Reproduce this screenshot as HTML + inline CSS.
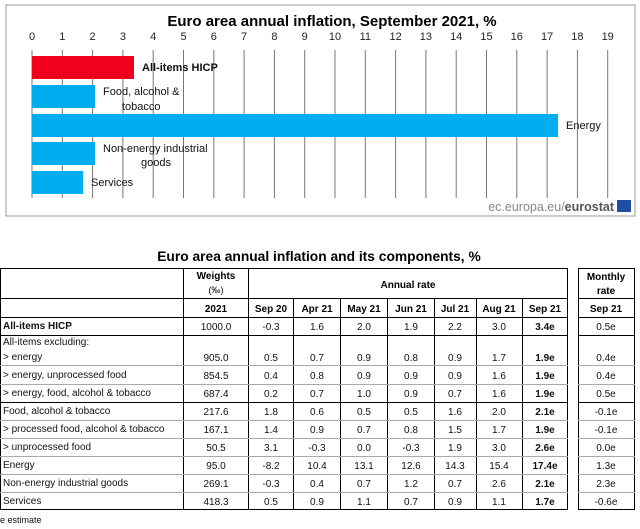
<!DOCTYPE html>
<html><head><meta charset="utf-8"><style>
html,body{margin:0;padding:0;background:#fff;width:640px;height:529px;overflow:hidden}
svg{display:block;font-family:"Liberation Sans",Arial,sans-serif}
</style></head><body>
<svg width="640" height="529" viewBox="0 0 640 529" xmlns="http://www.w3.org/2000/svg">
<rect x="6" y="5" width="629" height="211" fill="#fff" stroke="#999" stroke-width="1"/>
<text x="332" y="26" font-size="15" font-weight="bold" text-anchor="middle">Euro area annual inflation, September 2021, %</text>
<g font-size="11" text-anchor="middle" fill="#222">
<text x="32" y="40">0</text><text x="62.3" y="40">1</text><text x="92.6" y="40">2</text><text x="122.9" y="40">3</text><text x="153.2" y="40">4</text><text x="183.5" y="40">5</text><text x="213.8" y="40">6</text><text x="244.1" y="40">7</text><text x="274.4" y="40">8</text><text x="304.7" y="40">9</text><text x="335" y="40">10</text><text x="365.3" y="40">11</text><text x="395.6" y="40">12</text><text x="425.9" y="40">13</text><text x="456.2" y="40">14</text><text x="486.5" y="40">15</text><text x="516.8" y="40">16</text><text x="547.1" y="40">17</text><text x="577.4" y="40">18</text><text x="607.7" y="40">19</text>
</g>
<g stroke="#777" stroke-width="1">
<line x1="32" y1="50" x2="32" y2="198"/><line x1="62.3" y1="50" x2="62.3" y2="198"/><line x1="92.6" y1="50" x2="92.6" y2="198"/><line x1="122.9" y1="50" x2="122.9" y2="198"/><line x1="153.2" y1="50" x2="153.2" y2="198"/><line x1="183.5" y1="50" x2="183.5" y2="198"/><line x1="213.8" y1="50" x2="213.8" y2="198"/><line x1="244.1" y1="50" x2="244.1" y2="198"/><line x1="274.4" y1="50" x2="274.4" y2="198"/><line x1="304.7" y1="50" x2="304.7" y2="198"/><line x1="335" y1="50" x2="335" y2="198"/><line x1="365.3" y1="50" x2="365.3" y2="198"/><line x1="395.6" y1="50" x2="395.6" y2="198"/><line x1="425.9" y1="50" x2="425.9" y2="198"/><line x1="456.2" y1="50" x2="456.2" y2="198"/><line x1="486.5" y1="50" x2="486.5" y2="198"/><line x1="516.8" y1="50" x2="516.8" y2="198"/><line x1="547.1" y1="50" x2="547.1" y2="198"/><line x1="577.4" y1="50" x2="577.4" y2="198"/><line x1="607.7" y1="50" x2="607.7" y2="198"/>
</g>
<rect x="32" y="56" width="102" height="23" fill="#f0001c"/>
<rect x="32" y="85" width="63" height="23" fill="#00aeef"/>
<rect x="32" y="114" width="526" height="23" fill="#00aeef"/>
<rect x="32" y="142" width="63" height="23" fill="#00aeef"/>
<rect x="32" y="171" width="51" height="23" fill="#00aeef"/>
<g font-size="11" fill="#111">
<text x="142" y="71" font-weight="bold">All-items HICP</text>
<text x="103" y="95">Food, alcohol &amp;</text><text x="122" y="110">tobacco</text>
<text x="566" y="129">Energy</text>
<text x="103" y="152">Non-energy industrial</text><text x="141" y="166">goods</text>
<text x="91" y="186">Services</text>
</g>
<text x="614" y="211" font-size="12.5" text-anchor="end" fill="#888">ec.europa.eu/<tspan font-weight="bold" fill="#555">eurostat</tspan></text>
<rect x="617" y="200" width="14" height="12" fill="#1f4ea0"/>

<text x="319" y="261" font-size="13.8" font-weight="bold" text-anchor="middle">Euro area annual inflation and its components, %</text>

<g fill="none" stroke="#000" stroke-width="1">
<rect x="0.5" y="268.5" width="567" height="241"/>
<rect x="578.5" y="268.5" width="56" height="241"/>
<line x1="0" y1="298.5" x2="568" y2="298.5"/><line x1="578" y1="298.5" x2="635" y2="298.5"/>
<line x1="0" y1="317.5" x2="568" y2="317.5"/><line x1="578" y1="317.5" x2="635" y2="317.5"/>
<line x1="0" y1="335.5" x2="568" y2="335.5"/><line x1="578" y1="335.5" x2="635" y2="335.5"/>
<line x1="0" y1="402.5" x2="568" y2="402.5"/><line x1="578" y1="402.5" x2="635" y2="402.5"/>
<line x1="183.5" y1="268" x2="183.5" y2="510"/><line x1="248.5" y1="268" x2="248.5" y2="510"/>
<line x1="293.5" y1="298" x2="293.5" y2="510"/><line x1="340.5" y1="298" x2="340.5" y2="510"/><line x1="387.5" y1="298" x2="387.5" y2="510"/><line x1="434.5" y1="298" x2="434.5" y2="510"/><line x1="476.5" y1="298" x2="476.5" y2="510"/><line x1="522.5" y1="298" x2="522.5" y2="510"/>
</g>
<g stroke="#aaa" stroke-width="1">
<line x1="0" y1="365.5" x2="568" y2="365.5"/><line x1="578" y1="365.5" x2="635" y2="365.5"/>
<line x1="0" y1="384.5" x2="568" y2="384.5"/><line x1="578" y1="384.5" x2="635" y2="384.5"/>
<line x1="0" y1="420.5" x2="568" y2="420.5"/><line x1="578" y1="420.5" x2="635" y2="420.5"/>
<line x1="0" y1="438.5" x2="568" y2="438.5"/><line x1="578" y1="438.5" x2="635" y2="438.5"/>
<line x1="0" y1="456.5" x2="568" y2="456.5"/><line x1="578" y1="456.5" x2="635" y2="456.5"/>
<line x1="0" y1="474.5" x2="568" y2="474.5"/><line x1="578" y1="474.5" x2="635" y2="474.5"/>
<line x1="0" y1="492.5" x2="568" y2="492.5"/><line x1="578" y1="492.5" x2="635" y2="492.5"/>
</g>
<g font-size="10" font-weight="bold" text-anchor="middle">
<text x="216" y="279">Weights</text><text x="216" y="293" font-weight="normal" font-size="9">(‰)</text>
<text x="408" y="288">Annual rate</text>
<text x="606" y="280">Monthly</text><text x="606" y="294">rate</text>
<text x="216" y="312">2021</text><text x="271" y="312">Sep 20</text><text x="317" y="312">Apr 21</text><text x="364" y="312">May 21</text><text x="411" y="312">Jun 21</text><text x="455" y="312">Jul 21</text><text x="499" y="312">Aug 21</text><text x="545" y="312">Sep 21</text><text x="606" y="312">Sep 21</text>
</g>
<g font-size="10" fill="#111">
<text x="3" y="329" font-weight="bold">All-items HICP</text>
<text x="3" y="345">All-items excluding:</text>
<text x="3" y="360">&gt; energy</text>
<text x="3" y="378">&gt; energy, unprocessed food</text>
<text x="3" y="396">&gt; energy, food, alcohol &amp; tobacco</text>
<text x="3" y="414">Food, alcohol &amp; tobacco</text>
<text x="3" y="432">&gt; processed food, alcohol &amp; tobacco</text>
<text x="3" y="450">&gt; unprocessed food</text>
<text x="3" y="468">Energy</text>
<text x="3" y="486">Non-energy industrial goods</text>
<text x="3" y="504">Services</text>
<text x="0" y="523" font-size="9">e estimate</text>
</g>
<g font-size="10" fill="#111" text-anchor="middle">
<g transform="translate(0,330)"><text x="216">1000.0</text><text x="271">-0.3</text><text x="317">1.6</text><text x="364">2.0</text><text x="411">1.9</text><text x="455">2.2</text><text x="499">3.0</text><text x="545" font-weight="bold">3.4e</text><text x="606">0.5e</text></g>
<g transform="translate(0,361)"><text x="216">905.0</text><text x="271">0.5</text><text x="317">0.7</text><text x="364">0.9</text><text x="411">0.8</text><text x="455">0.9</text><text x="499">1.7</text><text x="545" font-weight="bold">1.9e</text><text x="606">0.4e</text></g>
<g transform="translate(0,379)"><text x="216">854.5</text><text x="271">0.4</text><text x="317">0.8</text><text x="364">0.9</text><text x="411">0.9</text><text x="455">0.9</text><text x="499">1.6</text><text x="545" font-weight="bold">1.9e</text><text x="606">0.4e</text></g>
<g transform="translate(0,397)"><text x="216">687.4</text><text x="271">0.2</text><text x="317">0.7</text><text x="364">1.0</text><text x="411">0.9</text><text x="455">0.7</text><text x="499">1.6</text><text x="545" font-weight="bold">1.9e</text><text x="606">0.5e</text></g>
<g transform="translate(0,415)"><text x="216">217.6</text><text x="271">1.8</text><text x="317">0.6</text><text x="364">0.5</text><text x="411">0.5</text><text x="455">1.6</text><text x="499">2.0</text><text x="545" font-weight="bold">2.1e</text><text x="606">-0.1e</text></g>
<g transform="translate(0,433)"><text x="216">167.1</text><text x="271">1.4</text><text x="317">0.9</text><text x="364">0.7</text><text x="411">0.8</text><text x="455">1.5</text><text x="499">1.7</text><text x="545" font-weight="bold">1.9e</text><text x="606">-0.1e</text></g>
<g transform="translate(0,451)"><text x="216">50.5</text><text x="271">3.1</text><text x="317">-0.3</text><text x="364">0.0</text><text x="411">-0.3</text><text x="455">1.9</text><text x="499">3.0</text><text x="545" font-weight="bold">2.6e</text><text x="606">0.0e</text></g>
<g transform="translate(0,469)"><text x="216">95.0</text><text x="271">-8.2</text><text x="317">10.4</text><text x="364">13.1</text><text x="411">12.6</text><text x="455">14.3</text><text x="499">15.4</text><text x="545" font-weight="bold">17.4e</text><text x="606">1.3e</text></g>
<g transform="translate(0,487)"><text x="216">269.1</text><text x="271">-0.3</text><text x="317">0.4</text><text x="364">0.7</text><text x="411">1.2</text><text x="455">0.7</text><text x="499">2.6</text><text x="545" font-weight="bold">2.1e</text><text x="606">2.3e</text></g>
<g transform="translate(0,505)"><text x="216">418.3</text><text x="271">0.5</text><text x="317">0.9</text><text x="364">1.1</text><text x="411">0.7</text><text x="455">0.9</text><text x="499">1.1</text><text x="545" font-weight="bold">1.7e</text><text x="606">-0.6e</text></g>
</g>
</svg>
</body></html>
